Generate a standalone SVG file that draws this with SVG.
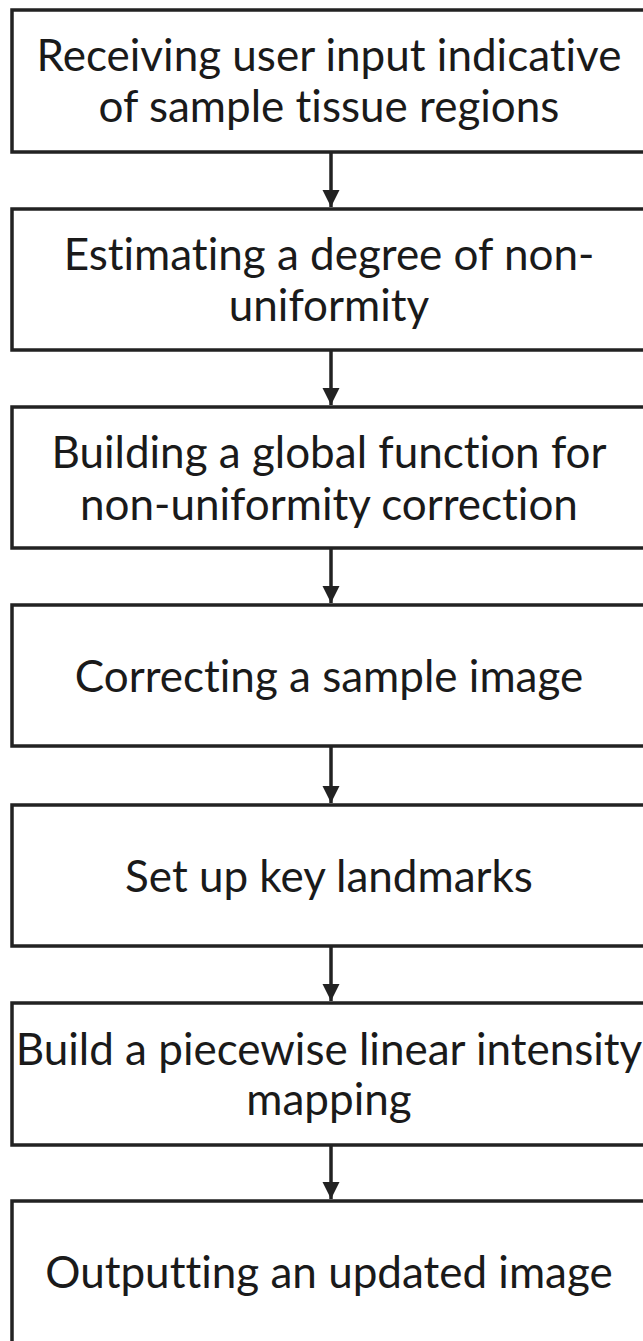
<svg xmlns="http://www.w3.org/2000/svg" width="643" height="1341" viewBox="0 0 643 1341">
<style>
.box{fill:#fff;stroke:#222;stroke-width:3.5}
.t{font-family:Lato,"Open Sans",sans-serif;font-size:44px;fill:#1a1a1a;text-anchor:middle;font-variant-ligatures:none;font-feature-settings:"liga" 0}
.c{stroke:#222;stroke-width:3.5;fill:none}
</style>
<defs>
<marker id="ah" markerWidth="5" markerHeight="5" refX="5" refY="2.5" orient="auto" markerUnits="strokeWidth">
<path d="M0,0 L5,2.5 L0,5 Z" fill="#222"/>
</marker>
</defs>
<rect width="643" height="1341" fill="#fff"/>
<g id="n1"><rect class="box" x="12" y="10" width="640" height="142"/>
<text class="t" x="329" y="71">Receiving user input indicative</text>
<text class="t" x="329" y="122">of sample tissue regions</text></g>
<g id="n2"><rect class="box" x="12" y="209" width="640" height="141"/>
<text class="t" x="329" y="270">Estimating a degree of non-</text>
<text class="t" x="329" y="321">uniformity</text></g>
<g id="n3"><rect class="box" x="12" y="407" width="640" height="141"/>
<text class="t" x="329" y="468">Building a global function for</text>
<text class="t" x="329" y="520">non-uniformity correction</text></g>
<g id="n4"><rect class="box" x="12" y="605" width="640" height="141"/>
<text class="t" x="329" y="692">Correcting a sample image</text></g>
<g id="n5"><rect class="box" x="12" y="805" width="640" height="141"/>
<text class="t" x="329" y="892">Set up key landmarks</text></g>
<g id="n6"><rect class="box" x="12" y="1003" width="640" height="142"/>
<text class="t" x="329" y="1065">Build a piecewise linear intensity</text>
<text class="t" x="329" y="1115">mapping</text></g>
<g id="n7"><rect class="box" x="12" y="1201" width="640" height="160"/>
<text class="t" x="329" y="1288">Outputting an updated image</text></g>
<g id="connectors">
<line class="c" x1="331" y1="152" x2="331" y2="207" marker-end="url(#ah)"/>
<line class="c" x1="331" y1="350" x2="331" y2="405" marker-end="url(#ah)"/>
<line class="c" x1="331" y1="548" x2="331" y2="603" marker-end="url(#ah)"/>
<line class="c" x1="331" y1="746" x2="331" y2="803" marker-end="url(#ah)"/>
<line class="c" x1="331" y1="946" x2="331" y2="1001" marker-end="url(#ah)"/>
<line class="c" x1="331" y1="1145" x2="331" y2="1199" marker-end="url(#ah)"/>
</g>
</svg>
